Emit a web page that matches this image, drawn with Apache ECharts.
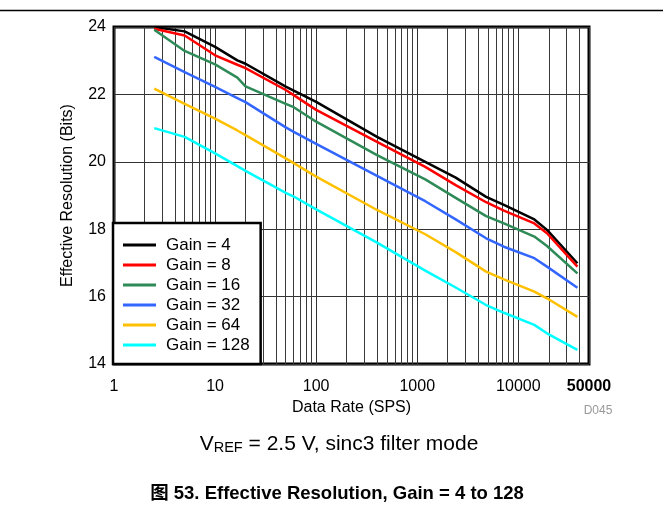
<!DOCTYPE html>
<html>
<head>
<meta charset="utf-8">
<script src="https://cdn.jsdelivr.net/npm/echarts@6/dist/echarts.min.js"></script>
<style>
html,body{margin:0;padding:0;background:#fff;}
#chart{width:663px;height:512px;}
</style>
</head>
<body>
<div id="chart"></div>
<script>
// Data rates (SPS)
const rates = [2.5, 5, 10, 16.6, 20, 50, 60, 100, 400, 1200, 2400, 4800, 7200, 14400, 19200, 38400];
// Effective resolution (bits) per gain
const gain4   = [24.00, 23.87, 23.41, 23.01, 22.91, 22.23, 22.11, 21.78, 20.74, 20.00, 19.53, 18.96, 18.72, 18.29, 17.98, 16.99];
const gain8   = [23.95, 23.75, 23.16, 22.88, 22.78, 22.13, 21.98, 21.54, 20.59, 19.85, 19.31, 18.80, 18.55, 18.17, 17.88, 16.89];
const gain16  = [23.92, 23.29, 22.89, 22.50, 22.24, 21.72, 21.62, 21.19, 20.20, 19.48, 18.93, 18.39, 18.17, 17.78, 17.50, 16.69];
const gain32  = [23.11, 22.66, 22.22, 21.89, 21.77, 21.02, 20.89, 20.53, 19.58, 18.83, 18.29, 17.73, 17.48, 17.14, 16.89, 16.26];
const gain64  = [22.17, 21.72, 21.28, 20.93, 20.79, 20.10, 19.96, 19.56, 18.57, 17.85, 17.32, 16.74, 16.51, 16.15, 15.95, 15.40];
const gain128 = [21.00, 20.74, 20.25, 19.87, 19.73, 19.08, 18.97, 18.59, 17.60, 16.77, 16.27, 15.75, 15.52, 15.16, 14.91, 14.42];

const seriesNames = ['Gain = 4', 'Gain = 8', 'Gain = 16', 'Gain = 32', 'Gain = 64', 'Gain = 128'];
const seriesData = [gain4, gain8, gain16, gain32, gain64, gain128];
const seriesColors = ['#000000', '#ff0000', '#2e8b57', '#3366ff', '#ffc000', '#00ffff'];

// x-axis range and minor log grid values
const xMin = 1, xMax = 50000;
const decades = [1, 10, 100, 1000, 10000];
const minorMultipliers = [2, 3, 4, 5, 6, 7, 8, 9];
const minorGrid = [];
decades.forEach(d => minorMultipliers.forEach(m => { if (d * m < xMax) minorGrid.push(d * m); }));

const FONT = "'Liberation Sans', Arial, Helvetica, sans-serif";

const chart = echarts.init(document.getElementById('chart'), null, {renderer: 'canvas'});

const series = seriesNames.map((name, i) => ({
  name: name,
  type: 'line',
  data: rates.map((r, j) => [r, seriesData[i][j]]),
  symbol: 'none',
  smooth: false,
  lineStyle: {color: seriesColors[i], width: 2.5, join: 'round'},
  itemStyle: {color: seriesColors[i]},
  z: 3
}));

series.push({
  name: '_grid',
  type: 'line',
  data: [],
  silent: true,
  markLine: {
    silent: true,
    z: 1,
    symbol: ['none', 'none'],
    label: {show: false},
    lineStyle: {color: '#3a3a3a', width: 1, type: 'solid'},
    emphasis: {disabled: true},
    animation: false,
    data: minorGrid.map(v => ({xAxis: v}))
  }
});

const option = {
  animation: false,
  backgroundColor: '#fff',
  grid: {
    left: 114, top: 27, right: 74, bottom: 148,
    show: true, borderColor: '#000', borderWidth: 3, backgroundColor: 'transparent'
  },
  xAxis: {
    type: 'log',
    logBase: 10,
    min: xMin,
    max: xMax,
    name: 'Data Rate (SPS)',
    nameLocation: 'middle',
    nameGap: 34,
    nameTextStyle: {fontSize: 16, color: '#000', fontFamily: FONT},
    axisLine: {show: false},
    axisTick: {show: false},
    axisLabel: {
      fontSize: 16, color: '#000', fontFamily: FONT, margin: 15,
      formatter: function (v) {
        const r = Math.round(v);
        if (r === xMax) return '{b|' + r + '}';
        return String(r);
      },
      rich: {b: {fontSize: 16, fontWeight: 'bold', color: '#000', fontFamily: FONT}}
    },
    splitLine: {show: true, lineStyle: {color: '#333', width: 1}},
    minorTick: {show: false},
    minorSplitLine: {show: false}
  },
  yAxis: {
    type: 'value',
    min: 14,
    max: 24,
    interval: 2,
    name: 'Effective Resolution (Bits)',
    nameLocation: 'middle',
    nameGap: 38,
    nameTextStyle: {fontSize: 16, color: '#000', fontFamily: FONT},
    axisLine: {show: false},
    axisTick: {show: false},
    axisLabel: {fontSize: 16, color: '#000', fontFamily: FONT, margin: 8},
    splitLine: {show: true, lineStyle: {color: '#333', width: 1}}
  },
  legend: {
    data: seriesNames.map(n => ({name: n, icon: 'rect'})),
    orient: 'vertical',
    left: 113,
    top: 223,
    padding: [12, 11, 9, 10],
    itemGap: 0,
    itemWidth: 33,
    itemHeight: 3,
    backgroundColor: '#fff',
    borderColor: '#000',
    borderWidth: 2.5,
    borderRadius: 0,
    selectedMode: false,
    textStyle: {fontSize: 17, lineHeight: 20, color: '#000', fontFamily: FONT, padding: [0, 0, 0, 5]}
  },
  graphic: [
    {
      type: 'line', silent: true,
      shape: {x1: 0, y1: 10.5, x2: 663, y2: 10.5},
      style: {stroke: '#000', lineWidth: 1.5}
    },
    {
      type: 'text', silent: true,
      x: 598, y: 411,
      style: {text: 'D045', fill: '#999', fontSize: 12, fontFamily: FONT, align: 'center', verticalAlign: 'middle'}
    },
    {
      type: 'text', silent: true,
      x: 339, y: 444,
      style: {
        text: '{v|V}{s|REF}{v| = 2.5 V, sinc3 filter mode}',
        align: 'center', verticalAlign: 'middle',
        rich: {
          v: {fontSize: 21, fontFamily: FONT, fill: '#000', lineHeight: 22},
          s: {fontSize: 14.5, fontFamily: FONT, fill: '#000', lineHeight: 6, verticalAlign: 'bottom'}
        }
      }
    },
    {
      type: 'text', silent: true,
      x: 337, y: 494,
      style: {
        text: '图 53. Effective Resolution, Gain = 4 to 128',
        fill: '#000', fontSize: 18.5, fontWeight: 'bold',
        fontFamily: "'Liberation Sans', Arial, 'Noto Sans CJK SC', sans-serif",
        align: 'center', verticalAlign: 'middle'
      }
    }
  ],
  series: series
};

chart.setOption(option);
</script>
</body>
</html>
